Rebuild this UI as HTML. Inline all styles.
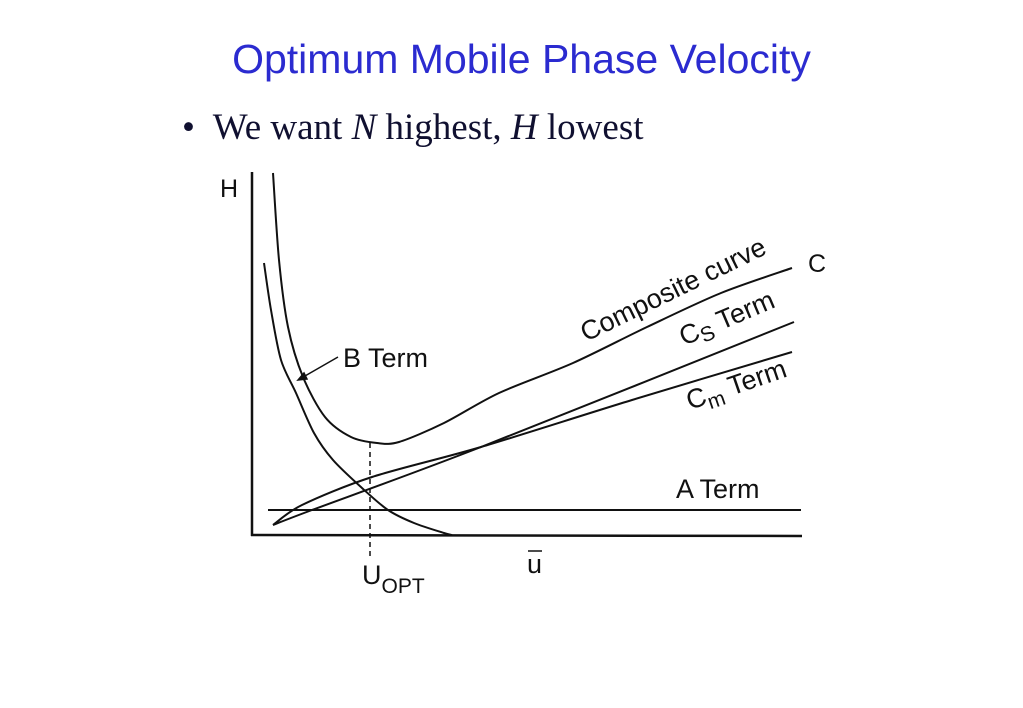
<!DOCTYPE html>
<html><head><meta charset="utf-8"><style>
body{margin:0;width:1023px;height:708px;background:#fff;overflow:hidden;position:relative;font-family:"Liberation Sans",sans-serif}
#title{position:absolute;left:0;width:1023px;top:34px;text-align:center;font-size:41px;color:#2b2bd0;line-height:50px;padding-left:20px;box-sizing:border-box}
#bullet{position:absolute;left:182px;top:106px;font-family:"Liberation Serif",serif;font-size:37px;color:#101030;white-space:nowrap}
svg{position:absolute;left:0;top:0}
</style></head><body>
<div id="title">Optimum Mobile Phase Velocity</div>
<div id="bullet">•&nbsp; We want <i>N</i> highest, <i>H</i> lowest</div>
<svg id="chart" width="1023" height="708"></svg>
<script>
const bTermU=[12,19,29,44,62,81,110,136,162,192,200];
const bTermH=[272,225,175,142,102,75,47,25,12,2,0];
const compU=[21,27,36,51,73,99,125,147,192,247,321,395,469,540];
const compH=[362,275,208,158,118,98,92,93,112,142,172,208,242,267];
const csU=[21,60,229,542];
const csH=[10,25,88,213];
const cmU=[21,50,120,229,380,540];
const cmH=[10,30,58,88,135,183];
const aTermU=[16,549];
const aTermH=[25,25];
const uOpt=118;
const NS='http://www.w3.org/2000/svg';
const svg=document.getElementById('chart');
const X=u=>252+u, Y=h=>535-h;
function mk(tag,attrs){const e=document.createElementNS(NS,tag);for(const k in attrs)e.setAttribute(k,attrs[k]);svg.appendChild(e);return e;}
function curve(us,hs,name){
 const pts=us.map((u,i)=>[X(u),Y(hs[i])]);
 let d='M'+pts[0][0]+','+pts[0][1];
 const t=0.3;
 for(let i=0;i<pts.length-1;i++){
  const p0=pts[Math.max(0,i-1)],p1=pts[i],p2=pts[i+1],p3=pts[Math.min(pts.length-1,i+2)];
  d+=' C'+(p1[0]+(p2[0]-p0[0])*t/2)+','+(p1[1]+(p2[1]-p0[1])*t/2)+' '+(p2[0]-(p3[0]-p1[0])*t/2)+','+(p2[1]-(p3[1]-p1[1])*t/2)+' '+p2[0]+','+p2[1];
 }
 const e=mk('path',{d:d,fill:'none',stroke:'#111','stroke-width':2});
 
 
}
const ya=mk('line',{x1:252,y1:172,x2:252,y2:536,stroke:'#111','stroke-width':2.5});


const xa=mk('line',{x1:251,y1:535,x2:802,y2:536,stroke:'#111','stroke-width':2.5});


curve(aTermU,aTermH,'a-term-line');
curve(bTermU,bTermH,'b-term-curve');
curve(compU,compH,'composite-curve');
curve(csU,csH,'cs-term-line');
curve(cmU,cmH,'cm-term-line');
const dl=mk('line',{x1:X(uOpt),y1:Y(92),x2:X(uOpt),y2:558,stroke:'#111','stroke-width':1.5,'stroke-dasharray':'5,4'});


const ar=mk('path',{d:'M338,357 L298,380 M298,380 l9,-1 l-3,-6 z',stroke:'#111','stroke-width':1.5,fill:'#111'});


function txt(s,x,y,size,name,rot){
 const t=mk('text',{x:x,y:y,'font-size':size,'font-family':'Liberation Sans, sans-serif',fill:'#111'});
 if(rot)t.setAttribute('transform','rotate('+rot+' '+x+' '+y+')');
 t.innerHTML=s;
 
 
}
txt('H',220,197,25,'y-axis-label');
txt('B Term',343,367,27,'b-term-label');
txt('Composite curve',586,342,27,'composite-curve-label',-26);
txt('C<tspan font-size="21" dy="5">S</tspan><tspan dy="-5"> Term</tspan>',684,346,27,'cs-term-label',-23);
txt('C<tspan font-size="21" dy="6">m</tspan><tspan dy="-6"> Term</tspan>',690,410,27,'cm-term-label',-19);
txt('C',808,272,25,'c-label');
txt('A Term',676,498,27,'a-term-label');
txt('u',527,573,27,'x-axis-label');
const ob=mk('line',{x1:528,y1:551,x2:542,y2:551,stroke:'#111','stroke-width':1.5});


txt('U<tspan font-size="21" dy="9">OPT</tspan>',362,584,27,'u-opt-label');
</script>
</body></html>
